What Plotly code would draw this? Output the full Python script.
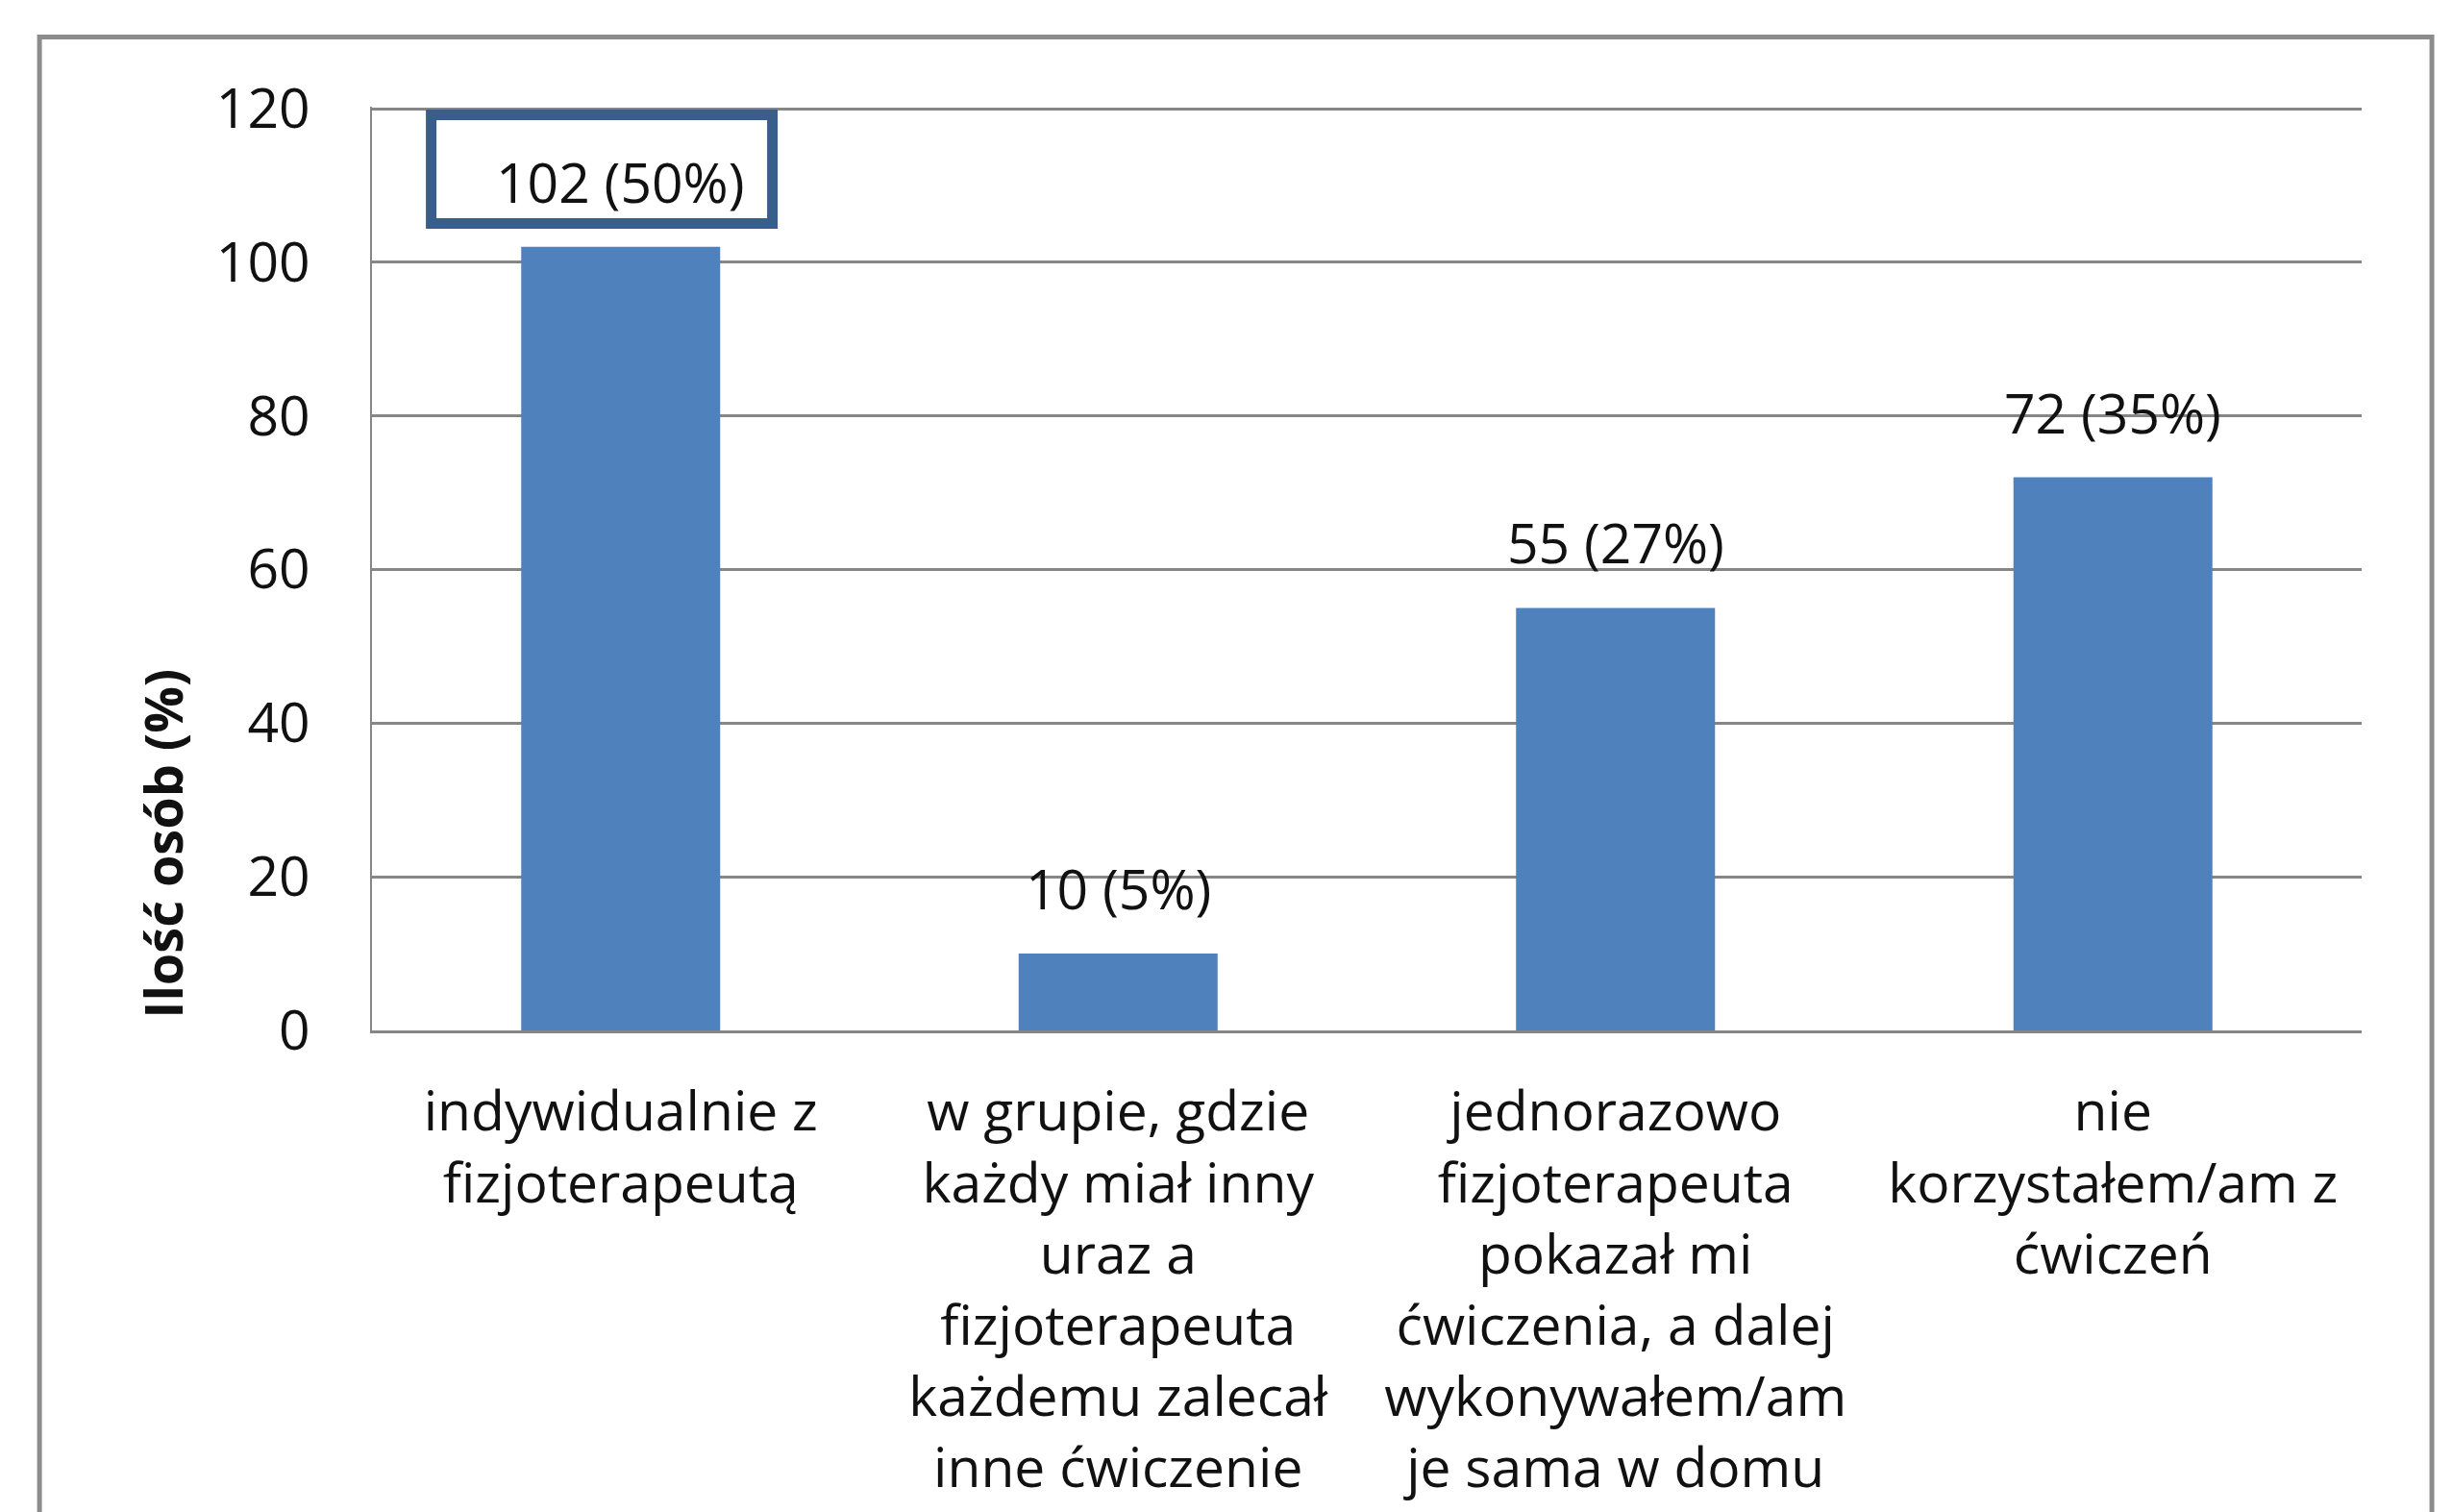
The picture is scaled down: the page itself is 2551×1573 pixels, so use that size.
import plotly.graph_objects as go

categories = [
    "indywidualnie z<br>fizjoterapeutą",
    "w grupie, gdzie<br>każdy miał inny<br>uraz a<br>fizjoterapeuta<br>każdemu zalecał<br>inne ćwiczenie",
    "jednorazowo<br>fizjoterapeuta<br>pokazał mi<br>ćwiczenia, a dalej<br>wykonywałem/am<br>je sama w domu",
    "nie<br>korzystałem/am z<br>ćwiczeń",
]
values = [102, 10, 55, 72]
percents = [50, 5, 27, 35]
y_ticks = [0, 20, 40, 60, 80, 100, 120]
y_title = "Ilość osób (%)"

FONT = "Open Sans"
TXT = "#111111"
GRID = "#868686"

fig = go.Figure()
fig.add_trace(go.Bar(
    x=categories, y=values,
    marker=dict(color="#4F81BD", line=dict(width=0)),
    width=0.4,
))

annotations = []
for c, v, p in zip(categories, values, percents):
    annotations.append(dict(
        x=c, y=v, xref="x", yref="y", text=f"{v} ({p}%)",
        showarrow=False, yanchor="bottom", yshift=27,
        font=dict(family=FONT, size=57, color=TXT),
    ))
annotations.append(dict(
    x=-0.1055, y=0.202, xref="paper", yref="paper", text=f"<b>{y_title}</b>",
    showarrow=False, textangle=-90, xanchor="center", yanchor="middle",
    font=dict(family=FONT, size=54, color=TXT),
))

imax = values.index(max(values))
shapes = [
    dict(type="rect", xref="x", yref="y",
         x0=imax - 0.381, x1=imax + 0.305,
         y0=values[imax] + 3.04, y1=values[imax] + 17.19,
         line=dict(color="#3A5E8C", width=11), fillcolor="rgba(0,0,0,0)",
         layer="above"),
    dict(type="rect", xref="paper", yref="paper",
         x0=-0.1671, x1=1.0353, y0=-0.6, y1=1.0755,
         line=dict(color="#8C8C8C", width=5), fillcolor="rgba(0,0,0,0)",
         layer="below"),
]

fig.update_layout(
    width=2551, height=1573,
    margin=dict(l=379, r=102, t=103, b=509, autoexpand=False),
    paper_bgcolor="white", plot_bgcolor="white",
    showlegend=False,
    bargap=0.6,
    font=dict(family=FONT, size=57, color=TXT),
    annotations=annotations,
    shapes=shapes,
    xaxis=dict(
        type="category", range=[-0.5, 3.5], automargin=False,
        showline=True, linecolor=GRID, linewidth=3,
        ticks="", showgrid=False,
        tickfont=dict(family=FONT, size=57, color=TXT),
        ticklabelstandoff=33,
    ),
    yaxis=dict(
        range=[0, 120.25], tickvals=y_ticks, automargin=False,
        showline=True, linecolor=GRID, linewidth=2,
        showgrid=True, gridcolor=GRID, gridwidth=2.5,
        zeroline=False, ticks="",
        tickfont=dict(family=FONT, size=57, color=TXT),
        ticklabelstandoff=51,
    ),
)

fig.write_html("out.html")
